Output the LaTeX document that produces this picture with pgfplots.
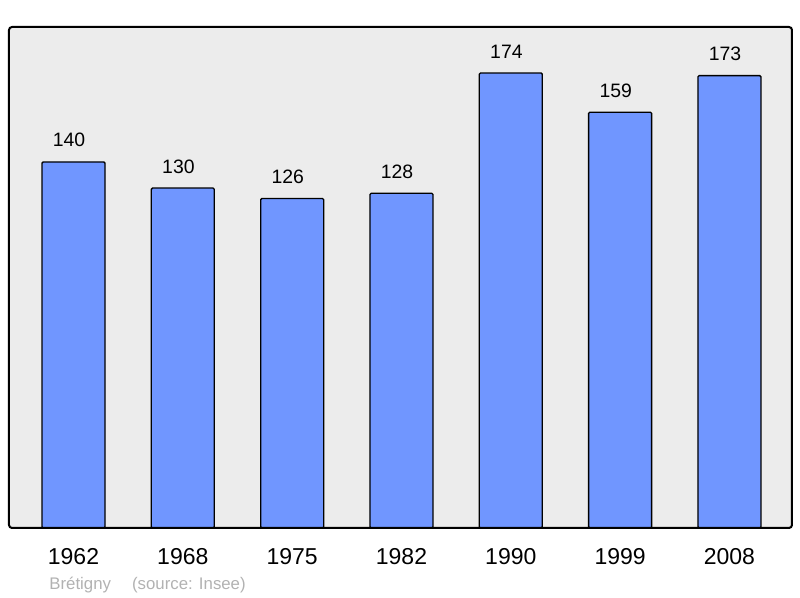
\documentclass[border=0pt]{standalone}
\usepackage{pgfplots}
\pgfplotsset{compat=1.18}
\usepackage{fontspec}
\setmainfont{Liberation Sans}
\definecolor{barblue}{RGB}{112,150,255}
\definecolor{bggray}{RGB}{236,236,236}
\definecolor{srcgray}{RGB}{178,178,178}
\begin{document}
\begin{tikzpicture}[x=1pt,y=1pt]
\useasboundingbox (0,0) rectangle (400,299);
\begin{axis}[
  at={(4.5pt,35pt)}, anchor=south west,
  scale only axis, width=391.5pt, height=250.5pt,
  xmin=-0.59, xmax=6.572, ymin=0, ymax=191.6,
  axis background/.style={fill=bggray},
  axis line style={draw=none},
  ytick=\empty,
  xtick=data,
  xticklabels={1962,1968,1975,1982,1990,1999,2008},
  major tick length=0pt,
  xticklabel style={anchor=base, yshift=-18.5pt, font=\fontsize{11.5pt}{13pt}\selectfont},
  /pgf/number format/assume math mode=true,
  ybar, bar width=31.5pt,
  nodes near coords,
  nodes near coords style={anchor=base, yshift=7.5pt, xshift=-2.2pt, font=\fontsize{9.7pt}{11pt}\selectfont, text=black},
  clip=false,
]
\addplot[fill=barblue, draw=black, line width=0.65pt, rounded corners=0.6pt] coordinates {
  (0,140) (1,130) (2,126) (3,128) (4,174) (5,159) (6,173)
};
\draw[line width=1pt, rounded corners=1.5pt] (rel axis cs:0,0) rectangle (rel axis cs:1,1);
\end{axis}
\node[anchor=base west, inner sep=0pt, text=srcgray, font=\fontsize{8.4pt}{10pt}\selectfont] at (24.5,4) {Brétigny};
\node[anchor=base west, inner sep=0pt, text=srcgray, font=\fontsize{8.4pt}{10pt}\selectfont] at (65.85,4) {(source: Insee)};
\end{tikzpicture}
\end{document}
